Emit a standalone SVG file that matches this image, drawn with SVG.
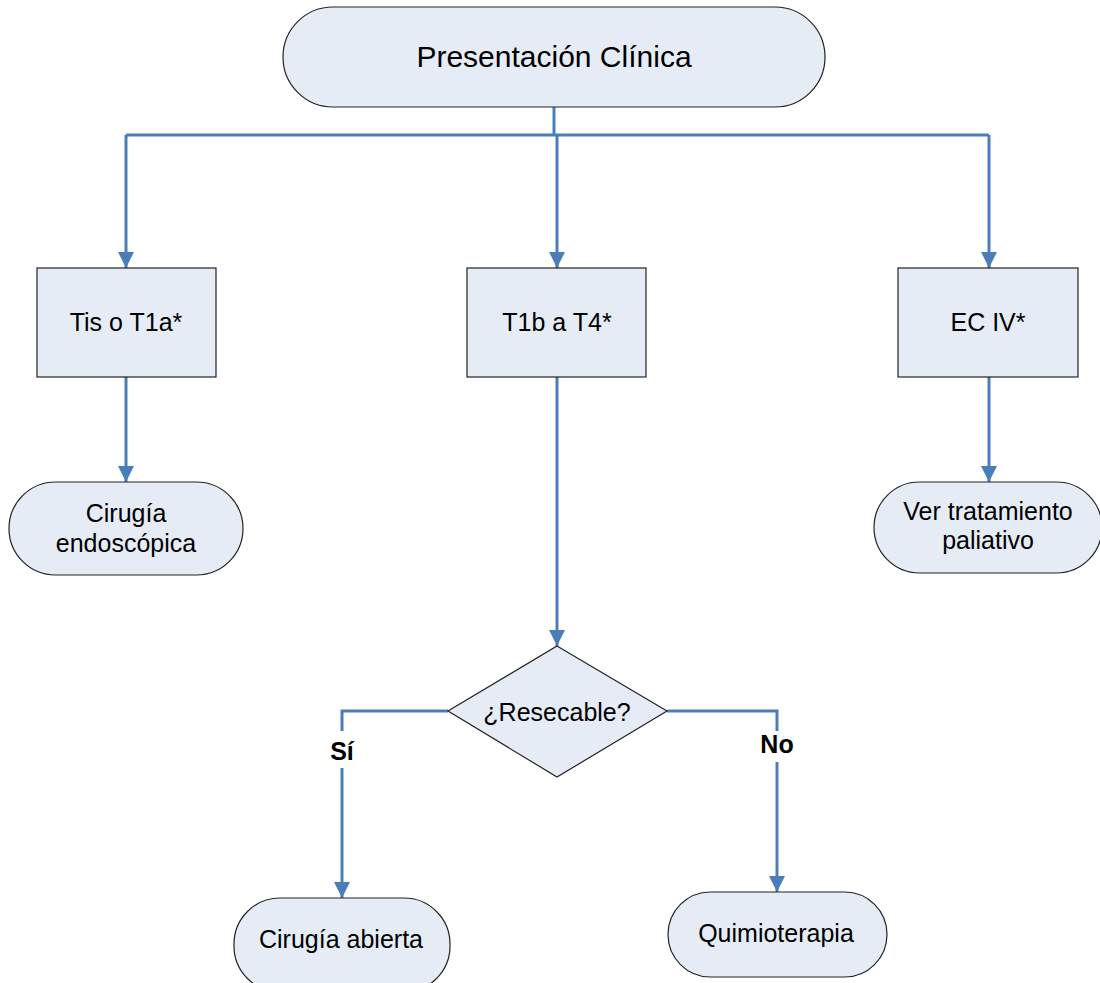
<svg xmlns="http://www.w3.org/2000/svg" width="1100" height="983" viewBox="0 0 1100 983">
  <defs>
    <marker id="arrow" viewBox="0 0 10 10" refX="10" refY="5" markerWidth="5.5" markerHeight="5.5" markerUnits="strokeWidth" orient="auto">
      <path d="M0,0 L10,5 L0,10 Z" fill="#4a7ebb"/>
    </marker>
  </defs>
  <style>
    .shape { fill: #e6ecf6; stroke: #222; stroke-width: 1.2; }
    .lbl { font-family: "Liberation Sans", Arial, sans-serif; font-size: 25px; fill: #000; text-anchor: middle; }
    .title { font-size: 30px; }
    .conn { fill: none; stroke: #4a7ebb; stroke-width: 3; }
    .yn { font-family: "Liberation Sans", Arial, sans-serif; font-weight: bold; font-size: 25px; fill: #000; text-anchor: middle; }
  </style>
  <rect width="1100" height="983" fill="#ffffff"/>

  <!-- connectors -->
  <g id="connectors">
    <path class="conn" d="M554,107 V135"/>
    <path class="conn" d="M126,135 H989"/>
    <path class="conn" d="M126,135 V268" marker-end="url(#arrow)"/>
    <path class="conn" d="M557,135 V268" marker-end="url(#arrow)"/>
    <path class="conn" d="M989,135 V268" marker-end="url(#arrow)"/>
    <path class="conn" d="M126,377 V482" marker-end="url(#arrow)"/>
    <path class="conn" d="M989,377 V482" marker-end="url(#arrow)"/>
    <path class="conn" d="M557,377 V646" marker-end="url(#arrow)"/>
    <path class="conn" d="M448,711 H342 V731"/>
    <path class="conn" d="M342,768 V898" marker-end="url(#arrow)"/>
    <path class="conn" d="M667,711 H777 V731"/>
    <path class="conn" d="M777,762 V892" marker-end="url(#arrow)"/>
    <text class="yn" x="342" y="760">Sí</text>
    <text class="yn" x="777" y="753">No</text>
  </g>

  <g id="presentacion">
    <rect class="shape" x="283" y="7" width="542" height="100" rx="50" ry="50"/>
    <text class="lbl title" x="554" y="67">Presentación Clínica</text>
  </g>

  <g id="tis">
    <rect class="shape" x="37" y="268" width="179" height="109"/>
    <text class="lbl" x="126" y="331">Tis o T1a*</text>
  </g>

  <g id="t1b">
    <rect class="shape" x="467" y="268" width="179" height="109"/>
    <text class="lbl" x="557" y="331">T1b a T4*</text>
  </g>

  <g id="ec4">
    <rect class="shape" x="898" y="268" width="180" height="109"/>
    <text class="lbl" x="988" y="331">EC IV*</text>
  </g>

  <g id="endoscopica">
    <rect class="shape" x="9" y="482" width="234" height="93" rx="46.5" ry="46.5"/>
    <text class="lbl" x="126" y="522">Cirugía</text>
    <text class="lbl" x="126" y="552">endoscópica</text>
  </g>

  <g id="paliativo">
    <rect class="shape" x="874" y="482" width="228" height="91" rx="45.5" ry="45.5"/>
    <text class="lbl" x="988" y="520">Ver tratamiento</text>
    <text class="lbl" x="988" y="549">paliativo</text>
  </g>

  <g id="resecable">
    <path class="shape" d="M557,646 L667,711 L557,777 L448,711 Z"/>
    <text class="lbl" x="557" y="721">¿Resecable?</text>
  </g>

  <g id="abierta">
    <rect class="shape" x="234" y="898" width="216" height="94" rx="46" ry="46"/>
    <text class="lbl" x="341" y="948">Cirugía abierta</text>
  </g>

  <g id="quimio">
    <rect class="shape" x="668" y="892" width="219" height="85" rx="42.5" ry="42.5"/>
    <text class="lbl" x="776" y="942">Quimioterapia</text>
  </g>
</svg>
